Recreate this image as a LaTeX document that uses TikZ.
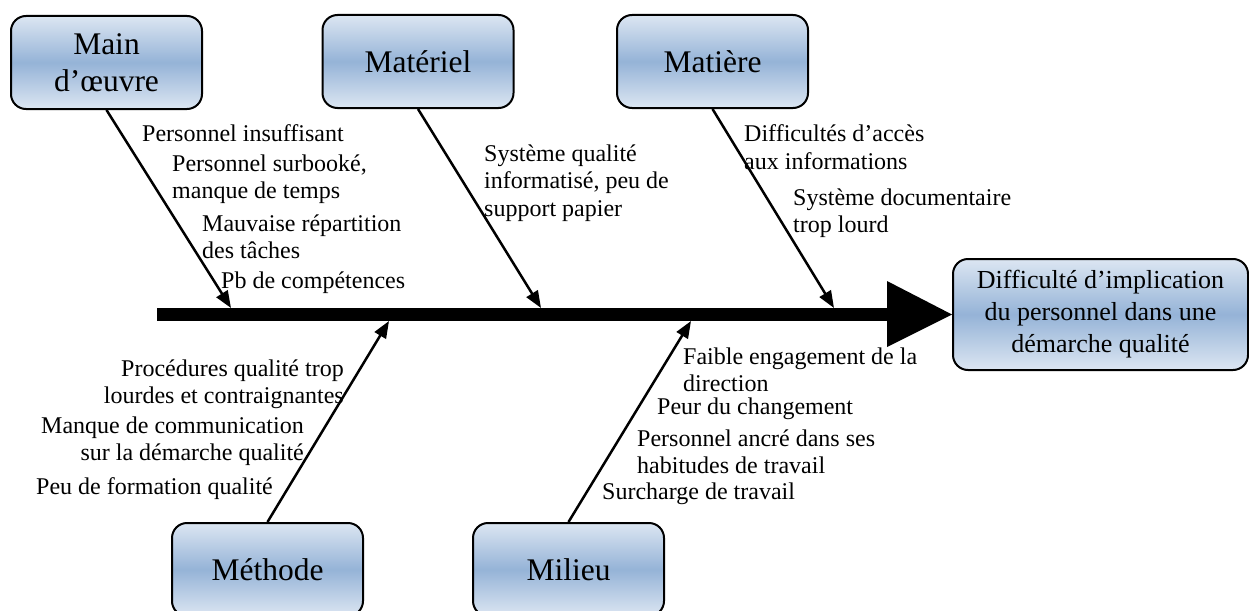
\documentclass[tikz,border=0pt]{standalone}
\usepackage{fontspec}
\setmainfont{Liberation Serif}
\usetikzlibrary{arrows.meta}
\definecolor{boxlight}{HTML}{DCE6F2}
\definecolor{boxmid}{HTML}{95B3D7}
\begin{document}
\begin{tikzpicture}[x=1pt,y=-1pt,
  cat/.style={draw=black,line width=2pt,rounded corners=15pt,minimum width=191pt,minimum height=93pt,
    top color=boxlight,bottom color=boxlight,middle color=boxmid,align=center,
    font=\fontsize{31.5}{37}\selectfont,inner sep=0pt},
  res/.style={cat,minimum width=295pt,minimum height=111pt,font=\fontsize{26}{32}\selectfont},
  bone/.style={line width=2.5pt,-{Triangle[length=17pt,width=13pt]}},
  lbl/.style={anchor=west,align=left,inner sep=0pt,font=\fontsize{24}{27.5}\selectfont},
  lblr/.style={anchor=east,align=right,inner sep=0pt,font=\fontsize{24}{27.5}\selectfont}]
\useasboundingbox (0,0) rectangle (1249,610);
% category boxes
\node[cat] (mo) at (106.5,62.5) {Main\\d’œuvre};
\node[cat] (mat) at (418,61.5) {Matériel};
\node[cat] (mt) at (712.5,61.5) {Matière};
\node[cat] (me) at (267.5,569.5) {Méthode};
\node[cat] (mi) at (568.5,569.5) {Milieu};
\node[res] (res) at (1100.5,314.5) {Difficulté d’implication\\du personnel dans une\\démarche qualité};
% spine
\coordinate (s0) at (157,314.5);
\coordinate (s1) at (889,314.5);
\coordinate (h1) at (887,281);
\coordinate (h2) at (887,347);
\draw[line width=13pt] (s0) -- (s1);
\fill (h1) -- (res.west) -- (h2) -- cycle;
% bone ends
\coordinate (e1) at (231,308);
\coordinate (e2) at (541,308);
\coordinate (e3) at (834,308);
\coordinate (e4) at (389,321);
\coordinate (e5) at (691,321);
\draw[bone] (mo.south) -- (e1);
\draw[bone] (mat.south) -- (e2);
\draw[bone] (mt.south) -- (e3);
\draw[bone] (me.north) -- (e4);
\draw[bone] (mi.north) -- (e5);
% labels
\node[lbl] (t1) at (142,133) {Personnel insuffisant};
\node[lbl] (t2) at (172,179) {Personnel surbooké,\\manque de temps};
\node[lbl] (t3) at (202,237) {Mauvaise répartition\\des tâches};
\node[lbl] (t4) at (221,283) {Pb de compétences};
\node[lbl] (t5) at (484,183) {Système qualité\\informatisé, peu de\\support papier};
\node[lbl] (t6) at (744,147) {Difficultés d’accès\\aux informations};
\node[lbl] (t7) at (793,213) {Système documentaire\\trop lourd};
\node[lblr] (t8) at (344,384) {Procédures qualité trop\\lourdes et contraignantes};
\node[lblr] (t9) at (304,441) {Manque de communication\\sur la démarche qualité};
\node[lbl] (t10) at (36,489) {Peu de formation qualité};
\node[lbl] (t11) at (683,370) {Faible engagement de la\\direction};
\node[lbl] (t12) at (657,409) {Peur du changement};
\node[lbl] (t13) at (637,452) {Personnel ancré dans ses\\habitudes de travail};
\node[lbl] (t14) at (602,494) {Surcharge de travail};
\end{tikzpicture}
\end{document}
